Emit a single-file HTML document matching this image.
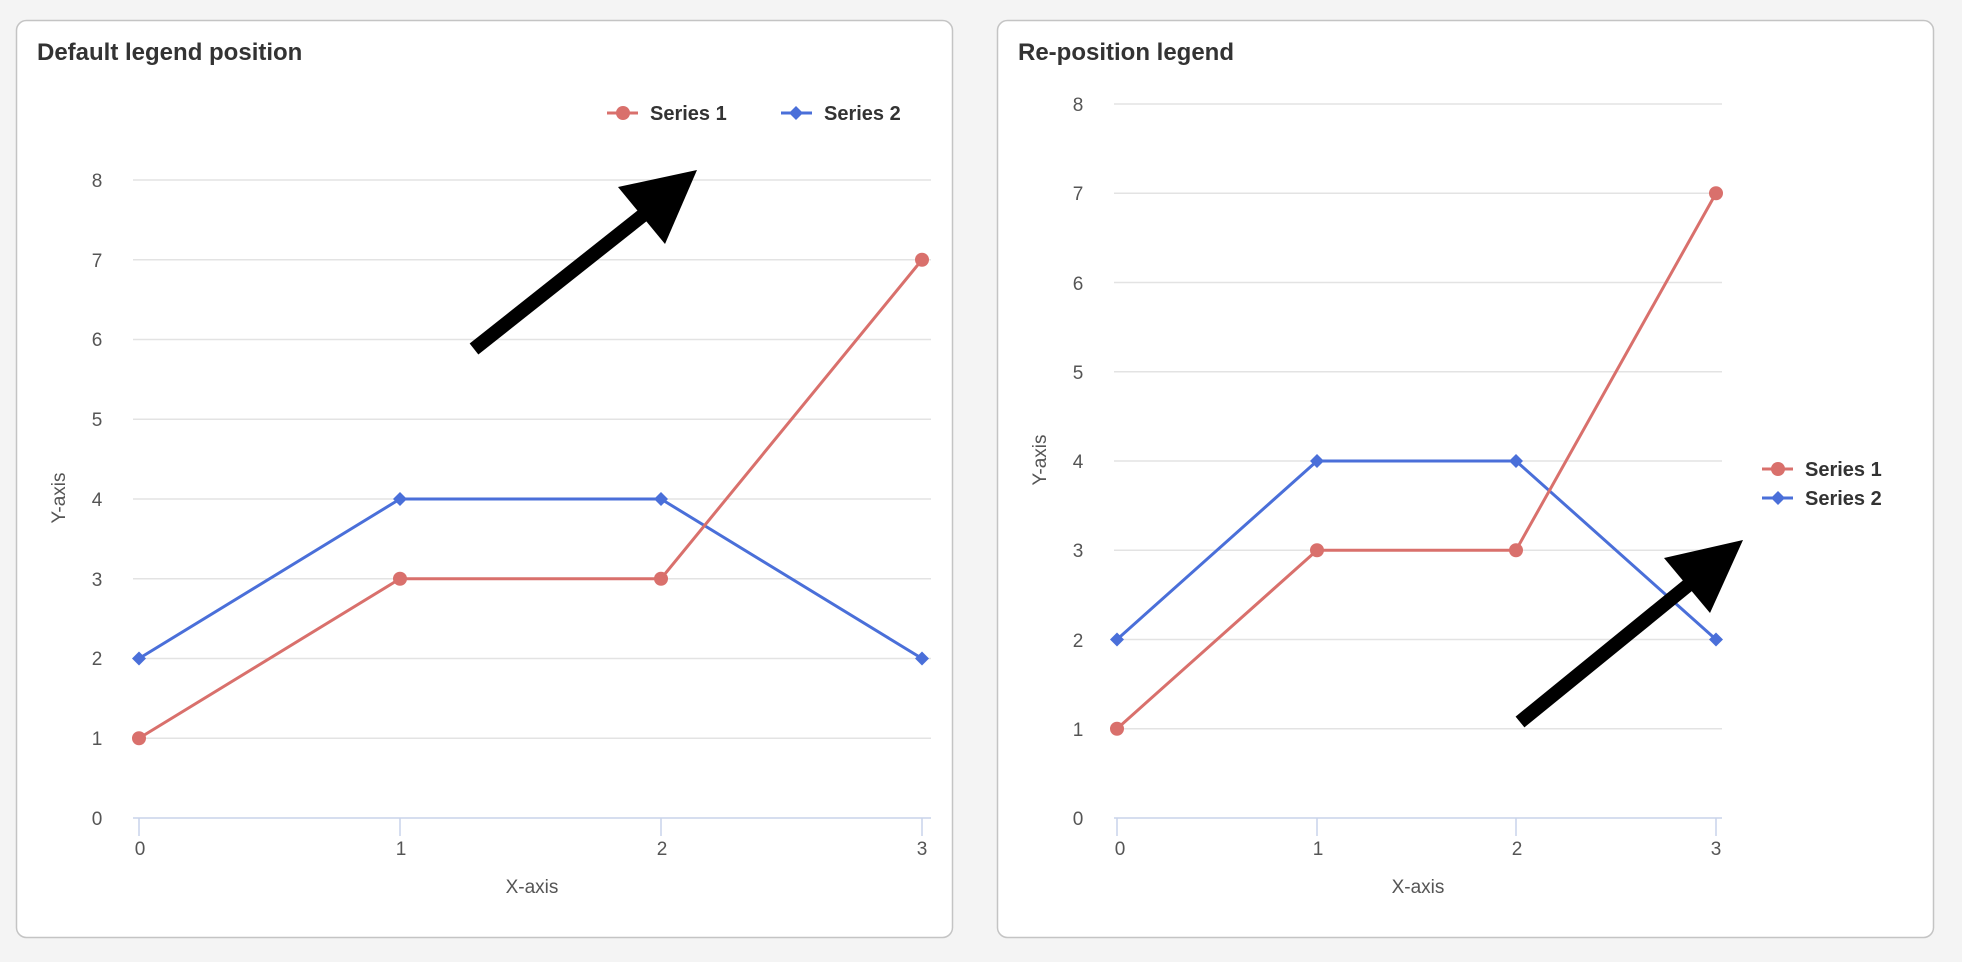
<!DOCTYPE html>
<html><head><style>
body{margin:0;background:#f4f4f4;}
svg{display:block;font-family:"Liberation Sans",Arial,sans-serif;}
</style></head><body>
<svg width="1962" height="962" viewBox="0 0 1962 962">
<rect x="0" y="0" width="1962" height="962" fill="#f4f4f4"/>
<rect x="16.5" y="20.5" width="936" height="917" rx="10" fill="#fff" stroke="#c4c4c4" stroke-width="1.5"/>
<rect x="997.5" y="20.5" width="936" height="917" rx="10" fill="#fff" stroke="#c4c4c4" stroke-width="1.5"/>
<text x="37" y="60" font-size="24" font-weight="bold" fill="#333">Default legend position</text>
<text x="1018" y="60" font-size="24" font-weight="bold" fill="#333">Re-position legend</text>

<g stroke="#e3e3e3" stroke-width="1.5">
<line x1="133" x2="931" y1="180" y2="180"/><line x1="133" x2="931" y1="259.75" y2="259.75"/><line x1="133" x2="931" y1="339.5" y2="339.5"/><line x1="133" x2="931" y1="419.25" y2="419.25"/><line x1="133" x2="931" y1="499" y2="499"/><line x1="133" x2="931" y1="578.75" y2="578.75"/><line x1="133" x2="931" y1="658.5" y2="658.5"/><line x1="133" x2="931" y1="738.25" y2="738.25"/>
<line x1="1114" x2="1722" y1="104" y2="104"/><line x1="1114" x2="1722" y1="193.25" y2="193.25"/><line x1="1114" x2="1722" y1="282.5" y2="282.5"/><line x1="1114" x2="1722" y1="371.75" y2="371.75"/><line x1="1114" x2="1722" y1="461" y2="461"/><line x1="1114" x2="1722" y1="550.25" y2="550.25"/><line x1="1114" x2="1722" y1="639.5" y2="639.5"/><line x1="1114" x2="1722" y1="728.75" y2="728.75"/>
</g>
<g stroke="#c9d3ea" stroke-width="1.5">
<line x1="133" x2="931" y1="818" y2="818"/>
<line x1="139" x2="139" y1="818" y2="836"/><line x1="400" x2="400" y1="818" y2="836"/><line x1="661" x2="661" y1="818" y2="836"/><line x1="922" x2="922" y1="818" y2="836"/>
<line x1="1114" x2="1722" y1="818" y2="818"/>
<line x1="1117" x2="1117" y1="818" y2="836"/><line x1="1317" x2="1317" y1="818" y2="836"/><line x1="1516" x2="1516" y1="818" y2="836"/><line x1="1716" x2="1716" y1="818" y2="836"/>
</g>
<g font-size="19" fill="#555" text-anchor="middle">
<text x="97" y="187">8</text><text x="97" y="267">7</text><text x="97" y="346">6</text><text x="97" y="426">5</text><text x="97" y="506">4</text><text x="97" y="586">3</text><text x="97" y="665">2</text><text x="97" y="745">1</text><text x="97" y="825">0</text>
<text x="140" y="855">0</text><text x="401" y="855">1</text><text x="662" y="855">2</text><text x="922" y="855">3</text>
<text x="532" y="893">X-axis</text>
<text transform="translate(65,498) rotate(-90)">Y-axis</text>
<text x="1078" y="111">8</text><text x="1078" y="200">7</text><text x="1078" y="290">6</text><text x="1078" y="379">5</text><text x="1078" y="468">4</text><text x="1078" y="557">3</text><text x="1078" y="647">2</text><text x="1078" y="736">1</text><text x="1078" y="825">0</text>
<text x="1120" y="855">0</text><text x="1318" y="855">1</text><text x="1517" y="855">2</text><text x="1716" y="855">3</text>
<text x="1418" y="893">X-axis</text>
<text transform="translate(1046,460) rotate(-90)">Y-axis</text>
</g>

<polyline points="139,658.5 400,499 661,499 922,658.5" fill="none" stroke="#4a6fd9" stroke-width="3"/>
<polyline points="139,738.25 400,578.75 661,578.75 922,259.75" fill="none" stroke="#d9706c" stroke-width="3"/>
<g fill="#d9706c"><circle cx="139" cy="738.25" r="7"/><circle cx="400" cy="578.75" r="7"/><circle cx="661" cy="578.75" r="7"/><circle cx="922" cy="259.75" r="7"/></g>
<g fill="#4a6fd9"><path d="M139 651.5l7 7-7 7-7-7z"/><path d="M400 492l7 7-7 7-7-7z"/><path d="M661 492l7 7-7 7-7-7z"/><path d="M922 651.5l7 7-7 7-7-7z"/></g>

<polyline points="1117,639.5 1317,461 1516,461 1716,639.5" fill="none" stroke="#4a6fd9" stroke-width="3"/>
<polyline points="1117,728.75 1317,550.25 1516,550.25 1716,193.25" fill="none" stroke="#d9706c" stroke-width="3"/>
<g fill="#d9706c"><circle cx="1117" cy="728.75" r="7"/><circle cx="1317" cy="550.25" r="7"/><circle cx="1516" cy="550.25" r="7"/><circle cx="1716" cy="193.25" r="7"/></g>
<g fill="#4a6fd9"><path d="M1117 632.5l7 7-7 7-7-7z"/><path d="M1317 454l7 7-7 7-7-7z"/><path d="M1516 454l7 7-7 7-7-7z"/><path d="M1716 632.5l7 7-7 7-7-7z"/></g>

<g font-size="20" font-weight="bold" fill="#333">
<line x1="607" x2="638" y1="113" y2="113" stroke="#d9706c" stroke-width="3"/><circle cx="623" cy="113" r="7" fill="#d9706c"/>
<text x="650" y="120">Series 1</text>
<line x1="781" x2="812" y1="113" y2="113" stroke="#4a6fd9" stroke-width="3"/><path d="M796 106l7 7-7 7-7-7z" fill="#4a6fd9"/>
<text x="824" y="120">Series 2</text>
<line x1="1762" x2="1793" y1="469" y2="469" stroke="#d9706c" stroke-width="3"/><circle cx="1778" cy="469" r="7" fill="#d9706c"/>
<text x="1805" y="476">Series 1</text>
<line x1="1762" x2="1793" y1="498" y2="498" stroke="#4a6fd9" stroke-width="3"/><path d="M1778 491l7 7-7 7-7-7z" fill="#4a6fd9"/>
<text x="1805" y="505">Series 2</text>
</g>

<line x1="474" y1="349" x2="652" y2="208" stroke="#000" stroke-width="14"/>
<polygon points="697,170 618,187 665,244" fill="#000"/>
<line x1="1520" y1="722" x2="1692" y2="582" stroke="#000" stroke-width="14"/>
<polygon points="1743,540 1664,558 1710,613" fill="#000"/>
</svg>
</body></html>
